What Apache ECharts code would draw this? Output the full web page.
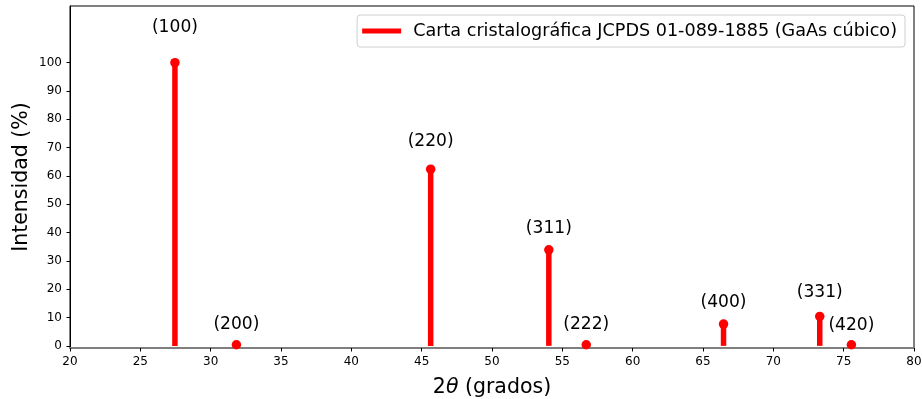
<!DOCTYPE html>
<html>
<head>
<meta charset="utf-8">
<script src="https://cdn.jsdelivr.net/npm/echarts@6/dist/echarts.min.js"></script>
<style>
html,body{margin:0;padding:0;background:#fff;}
#c{width:922px;height:399px;}
</style>
</head>
<body>
<div id="c"></div>
<script>
// Data
const hkl = ['(100)', '(200)', '(220)', '(311)', '(222)', '(400)', '(331)', '(420)'];
const twoTheta = [27.46, 31.83, 45.64, 54.04, 56.70, 66.46, 73.30, 75.55];
const intensity = [100, 0.4, 62.4, 33.9, 0.4, 7.7, 10.4, 0.4];
const labelY = [112.3, 7.4, 72.1, 41.3, 7.4, 15.2, 18.7, 7.2];
const yTicks = [0, 10, 20, 30, 40, 50, 60, 70, 80, 90, 100];
const xTicks = [20, 25, 30, 35, 40, 45, 50, 55, 60, 65, 70, 75, 80];
const legendName = 'Carta cristalográfica JCPDS 01-089-1885 (GaAs cúbico)';

const FONT = 'DejaVu Sans';
const chart = echarts.init(document.getElementById('c'), null, {renderer: 'canvas'});

const stemData = twoTheta.map((x, i) => [x, intensity[i]]);
const labelData = twoTheta.map((x, i) => ({value: [x, labelY[i]], name: hkl[i]}));

chart.setOption({
  animation: false,
  backgroundColor: '#fff',
  grid: {
    left: 70, right: 8, top: 6, bottom: 51,
    containLabel: false,
    outerBoundsMode: 'none',
    show: true, borderColor: '#000', borderWidth: 1, backgroundColor: 'transparent'
  },
  legend: {
    show: true,
    data: [legendName],
    right: 17, top: 15,
    orient: 'horizontal',
    icon: 'rect',
    itemWidth: 39, itemHeight: 5,
    padding: [7, 8, 7, 5],
    borderColor: '#d0d0d0', borderWidth: 1, borderRadius: 3,
    backgroundColor: 'rgba(255,255,255,0.8)',
    textStyle: {fontFamily: FONT, fontSize: 17.6, color: '#000', padding: [0, 0, 0, 7]}
  },
  xAxis: {
    type: 'value',
    min: 20, max: 80, interval: 5,
    name: '2{i|θ} (grados)',
    nameLocation: 'middle',
    nameGap: 29,
    nameTextStyle: {
      fontFamily: FONT, fontSize: 20.5, color: '#000',
      rich: {i: {fontFamily: FONT, fontSize: 20.5, fontStyle: 'italic', color: '#000'}}
    },
    axisLine: {show: true, onZero: false, lineStyle: {color: '#7f7f7f', width: 2}},
    axisTick: {show: true, length: 3.5, inside: false, lineStyle: {color: '#000', width: 1}},
    axisLabel: {
      fontFamily: FONT, fontSize: 12, color: '#000', margin: 8,
      customValues: xTicks
    },
    splitLine: {show: false}
  },
  yAxis: {
    type: 'value',
    min: -0.75, max: 120,
    name: 'Intensidad (%)',
    nameLocation: 'middle',
    nameGap: 38,
    nameMoveOverlap: false,
    nameTextStyle: {fontFamily: FONT, fontSize: 20.5, color: '#000'},
    axisLine: {show: true, lineStyle: {color: '#000', width: 1}},
    axisTick: {show: true, length: 3.5, lineStyle: {color: '#000', width: 1}, customValues: yTicks},
    axisLabel: {fontFamily: FONT, fontSize: 12, color: '#000', margin: 8, customValues: yTicks},
    splitLine: {show: false}
  },
  series: [
    {
      name: legendName,
      type: 'bar',
      data: stemData,
      barWidth: 5.5,
      itemStyle: {color: '#ff0000'},
      z: 2
    },
    {
      name: 'markers',
      type: 'scatter',
      data: stemData,
      symbol: 'circle',
      symbolSize: 9.5,
      itemStyle: {color: '#ff0000', opacity: 1},
      z: 3
    },
    {
      name: 'labels',
      type: 'scatter',
      data: labelData,
      symbolSize: 1,
      itemStyle: {color: 'rgba(0,0,0,0)', opacity: 1},
      label: {
        show: true, position: [0.5, 0.5],
        align: 'center', verticalAlign: 'middle',
        formatter: p => p.name,
        fontFamily: FONT, fontSize: 17.1, color: '#000',
        textBorderWidth: 0
      },
      emphasis: {disabled: true},
      z: 4
    }
  ]
});
</script>
</body>
</html>
